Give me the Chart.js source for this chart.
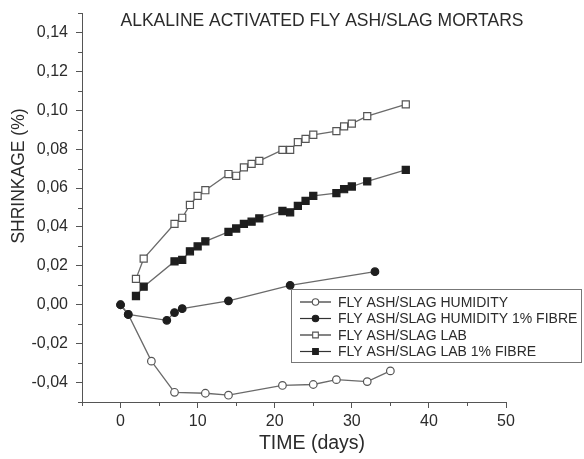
<!DOCTYPE html>
<html>
<head>
<meta charset="utf-8">
<title>Alkaline activated fly ash/slag mortars</title>
<script src="https://cdn.jsdelivr.net/npm/chart.js@4.4.1/dist/chart.umd.min.js"></script>
<style>
  html, body { margin: 0; padding: 0; background: #fff; }
  #wrap { width: 584px; height: 459px; }
</style>
</head>
<body>
<div id="wrap"><canvas id="shrinkageChart" width="584" height="459"></canvas></div>
<script>
// ===== Data =====
const humidityDays = [0, 1, 4, 7, 11, 14, 21, 25, 28, 32, 35];
const humidityShrinkage = [0, -0.005, -0.029, -0.045, -0.0455, -0.0465, -0.0415, -0.041, -0.0385, -0.0395, -0.034];

const humidityFibreDays = [0, 1, 6, 7, 8, 14, 22, 33];
const humidityFibreShrinkage = [0, -0.005, -0.008, -0.004, -0.002, 0.002, 0.010, 0.017];

const labDays = [2, 3, 7, 8, 9, 10, 11, 14, 15, 16, 17, 18, 21, 22, 23, 24, 25, 28, 29, 30, 32, 37];
const labShrinkage = [0.0133, 0.0237, 0.0416, 0.0447, 0.0513, 0.056, 0.0589, 0.0672, 0.0663, 0.0706, 0.0724,
  0.074, 0.0796, 0.0796, 0.0836, 0.0853, 0.0874, 0.0893, 0.0917, 0.0931, 0.097, 0.103];

const labFibreDays = [2, 3, 7, 8, 9, 10, 11, 14, 15, 16, 17, 18, 21, 22, 23, 24, 25, 28, 29, 30, 32, 37];
const labFibreShrinkage = [0.0045, 0.0093, 0.0223, 0.0231, 0.0275, 0.030, 0.0326, 0.0375, 0.0392, 0.0416, 0.0427,
  0.0444, 0.0482, 0.0475, 0.0508, 0.0534, 0.056, 0.0574, 0.0594, 0.0608, 0.0634, 0.0693];

const xTicks = [0, 10, 20, 30, 40, 50];
const yTicks = [-0.04, -0.02, 0, 0.02, 0.04, 0.06, 0.08, 0.10, 0.12, 0.14];
const xMinorTicks = [-5, 5, 15, 25, 35, 45];
const yMinorTicks = [-0.05, -0.03, -0.01, 0.01, 0.03, 0.05, 0.07, 0.09, 0.11, 0.13, 0.15];

const chartTitle = "ALKALINE ACTIVATED FLY ASH/SLAG MORTARS";
const xTitle = "TIME (days)";
const yTitle = "SHRINKAGE (%)";

const FONT = "'Liberation Sans', Arial, Helvetica, sans-serif";
const TEXT = "#2b2b2b";
const AXIS = "#555";
const LINE = "#6a6a6a";

function toPoints(days, values) {
  return days.map(function (d, i) { return { x: d, y: values[i] }; });
}

// order: higher numbers are drawn first (underneath)
function makeSeries(label, days, values, style, filled, order) {
  return {
    label: label,
    data: toPoints(days, values),
    order: order,
    borderColor: LINE,
    borderWidth: 1.3,
    pointStyle: style,
    pointRadius: style === "rect" ? 5 : 3.8,
    pointBackgroundColor: filled ? "#1e1e1e" : "#ffffff",
    pointBorderColor: filled ? "#1e1e1e" : "#555",
    pointBorderWidth: 1.2,
    tension: 0,
    fill: false,
  };
}

const datasets = [
  makeSeries("FLY ASH/SLAG HUMIDITY", humidityDays, humidityShrinkage, "circle", false, 4),
  makeSeries("FLY ASH/SLAG HUMIDITY 1% FIBRE", humidityFibreDays, humidityFibreShrinkage, "circle", true, 1),
  makeSeries("FLY ASH/SLAG LAB", labDays, labShrinkage, "rect", false, 3),
  makeSeries("FLY ASH/SLAG LAB 1% FIBRE", labFibreDays, labFibreShrinkage, "rect", true, 2),
];

function commaFormat(value) {
  return value.toFixed(2).replace(".", ",");
}

// Minor ticks, titles and the boxed legend inside the plot
const decorPlugin = {
  id: "decor",
  afterDraw: function (chart) {
    const ctx = chart.ctx;
    const xs = chart.scales.x;
    const ys = chart.scales.y;
    const area = chart.chartArea;

    ctx.save();
    ctx.strokeStyle = AXIS;
    ctx.lineWidth = 1;
    ctx.beginPath();
    xMinorTicks.forEach(function (v) {
      const px = Math.round(xs.getPixelForValue(v)) + 0.5;
      ctx.moveTo(px, area.bottom);
      ctx.lineTo(px, area.bottom + 4);
    });
    yMinorTicks.forEach(function (v) {
      const py = Math.round(ys.getPixelForValue(v)) + 0.5;
      ctx.moveTo(area.left, py);
      ctx.lineTo(area.left - 4, py);
    });
    ctx.stroke();

    // chart title
    ctx.fillStyle = TEXT;
    ctx.textAlign = "center";
    ctx.textBaseline = "middle";
    ctx.font = "17.5px " + FONT;
    ctx.fillText(chartTitle, 322, 21);

    // axis titles
    ctx.font = "19.5px " + FONT;
    ctx.fillText(xTitle, 312, 444);
    ctx.save();
    ctx.translate(19, 176);
    ctx.rotate(-Math.PI / 2);
    ctx.font = "17.5px " + FONT;
    ctx.fillText(yTitle, 0, 0);
    ctx.restore();

    // legend
    const box = { left: 291.5, top: 289.5, width: 290, height: 73 };
    ctx.strokeStyle = "#777";
    ctx.lineWidth = 1;
    ctx.strokeRect(box.left, box.top, box.width, box.height);
    const rowY = [302, 318.5, 335, 351.5];
    ctx.font = "14px " + FONT;
    ctx.textAlign = "left";
    chart.data.datasets.forEach(function (ds, i) {
      const y = rowY[i];
      ctx.strokeStyle = "#333";
      ctx.lineWidth = 1.2;
      ctx.beginPath();
      ctx.moveTo(300, y);
      ctx.lineTo(331, y);
      ctx.stroke();
      ctx.fillStyle = ds.pointBackgroundColor;
      ctx.strokeStyle = ds.pointBorderColor;
      ctx.lineWidth = 1.1;
      Chart.helpers.drawPoint(ctx, {
        pointStyle: ds.pointStyle,
        radius: ds.pointStyle === "rect" ? 4 : 3.2,
        rotation: 0,
        borderWidth: 1.1,
      }, 315.5, y);
      ctx.fillStyle = TEXT;
      ctx.fillText(ds.label, 338, y + 1);
    });
    ctx.restore();
  },
};

const config = {
  type: "line",
  data: { datasets: datasets },
  options: {
    responsive: false,
    animation: false,
    devicePixelRatio: 1,
    layout: { padding: { left: 0, right: 78, top: 13, bottom: 0 } },
    plugins: {
      legend: { display: false },
      tooltip: { enabled: false },
      title: { display: false },
    },
    scales: {
      x: {
        type: "linear",
        min: -5,
        max: 50,
        afterFit: function (scale) { scale.height = 57; },
        afterBuildTicks: function (scale) {
          scale.ticks = xTicks.map(function (v) { return { value: v }; });
        },
        grid: { drawOnChartArea: false, color: AXIS, tickLength: 6 },
        border: { color: AXIS, width: 1 },
        ticks: {
          color: TEXT,
          padding: 4,
          maxRotation: 0,
          font: { family: FONT, size: 16 },
        },
      },
      y: {
        type: "linear",
        min: -0.05,
        max: 0.15,
        afterFit: function (scale) {
          scale.width = 82;
          scale.paddingTop = 0;
          scale.paddingBottom = 0;
        },
        afterBuildTicks: function (scale) {
          scale.ticks = yTicks.map(function (v) { return { value: v }; });
        },
        grid: { drawOnChartArea: false, color: AXIS, tickLength: 6 },
        border: { color: AXIS, width: 1 },
        ticks: {
          color: TEXT,
          padding: 8,
          font: { family: FONT, size: 16 },
          callback: function (value) { return commaFormat(value); },
        },
      },
    },
  },
  plugins: [decorPlugin],
};

new Chart(document.getElementById("shrinkageChart"), config);
</script>
</body>
</html>
